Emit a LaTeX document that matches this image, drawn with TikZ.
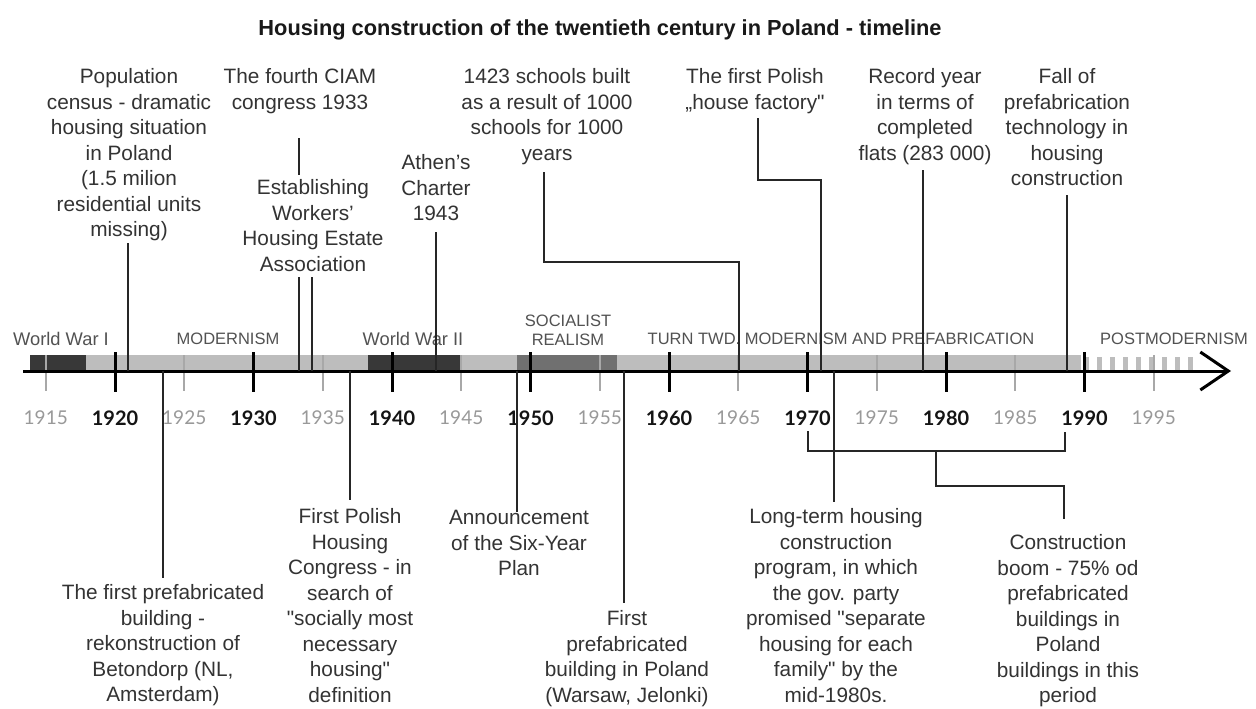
\documentclass[tikz,border=0pt]{standalone}
\usepackage{fontspec}
\setmainfont{Liberation Sans}[Ligatures=TeXOff]
\newfontfamily\yearfont{Lato}
\usetikzlibrary{arrows.meta,calc}
\definecolor{txt}{HTML}{333333}
\definecolor{barlight}{HTML}{BDBDBD}
\definecolor{bardark}{HTML}{383838}
\definecolor{barmid}{HTML}{707070}
\definecolor{minorc}{HTML}{A8A8A8}
\begin{document}
\begin{tikzpicture}[x=1pt,y=-1pt,
  note/.style={align=center, inner sep=0pt, anchor=north, text=txt, font=\fontsize{20.8}{25.5}\selectfont},
  conn/.style={draw=black!85, line width=2pt},
  period/.style={text=black!68, font=\fontsize{16.5}{19.5}\selectfont, inner sep=0pt, align=center},
  warlab/.style={period, font=\fontsize{18.3}{22}\selectfont},
  majorlab/.style={text=black!92, inner sep=0pt, font=\yearfont\bfseries\fontsize{20}{24}\selectfont},
  minorlab/.style={text=black!40, inner sep=0pt, font=\yearfont\fontsize{19}{23}\selectfont},
  majortick/.style={draw=black, line width=3pt},
  minortick/.style={draw=minorc, line width=2pt},
]
\path[use as bounding box, fill=white] (0,0) rectangle (1256,709);

% title
\node[anchor=base, inner sep=0pt, text=black!90, font=\bfseries\fontsize{21.8}{26}\selectfont] (title) at (600,36)
  {Housing construction of the twentieth century in Poland - timeline};

% period bars
\fill[bardark] (30,355) rectangle (86,370);
\fill[barlight] (86,355) rectangle (368,370);
\fill[bardark] (368,355) rectangle (461,370);
\fill[barlight] (461,355) rectangle (517,370);
\fill[barmid] (517,355) rectangle (617,370);
\fill[barlight] (617,355) rectangle (1081,370);
\draw[barlight, line width=13pt, dash pattern=on 5pt off 8pt] (1084,363.5) -- (1197,363.5);

% ticks and year labels
\foreach \yr in {1915,1925,...,1995} {
  \pgfmathsetmacro\xx{115+(\yr-1920)*13.85}
  \draw[minortick] (\xx,355) -- (\xx,391);
  \node[minorlab] (y\yr) at (\xx,418) {\yr};
}
\foreach \yr in {1920,1930,...,1990} {
  \pgfmathsetmacro\xx{115+(\yr-1920)*13.85}
  \draw[majortick] (\xx,352) -- (\xx,392);
  \node[majorlab] (y\yr) at (\xx,418) {\yr};
}

% axis
\coordinate (axS) at (23,371);
\coordinate (axE) at (1231,371);
\draw[line width=3pt, -{Straight Barb[length=28pt,width=38pt,line width=3pt]}] (axS) -- (axE);

% period labels
\node[warlab] (ww1) at (61,339) {World War I};
\node[period] (mod) at (228,339) {MODERNISM};
\node[warlab] (ww2) at (413,339) {World War II};
\node[period] (soc) at (568,330.5) {SOCIALIST\\REALISM};
\node[period] (turn) at (841,339) {TURN TWD. MODERNISM AND PREFABRICATION};
\node[period] (post) at (1174,339) {POSTMODERNISM};

% annotations above
\node[note] (pop) at (129,68.3) {Population\\census - dramatic\\housing situation\\in Poland\\(1.5 milion\\residential units\\missing)};
\node[note] (ciam) at (300,68.3) {The fourth CIAM\\congress 1933};
\node[note] (est) at (313,179.3) {Establishing\\Workers’\\Housing Estate\\Association};
\node[note] (athen) at (436,154.3) {Athen’s\\Charter\\1943};
\node[note] (schools) at (547,68.3) {1423 schools built\\as a result of 1000\\schools for 1000\\years};
\node[note] (factory) at (755,68.3) {The first Polish\\„house factory"};
\node[note] (record) at (925,68.3) {Record year\\in terms of\\completed\\flats (283 000)};
\node[note] (fall) at (1067,68.3) {Fall of\\prefabrication\\technology in\\housing\\construction};

% annotations below
\node[note] (beton) at (163,584.3) {The first prefabricated\\building -\\rekonstruction of\\Betondorp (NL,\\Amsterdam)};
\node[note] (congress) at (350,508.3) {First Polish\\Housing\\Congress - in\\search of\\"socially most\\necessary\\housing"\\definition};
\node[note] (announce) at (519,510.3) {Announcement\\of the Six-Year\\Plan};
\node[note] (firstpre) at (627,610.3) {First\\prefabricated\\building in Poland\\(Warsaw, Jelonki)};
\node[note] (longterm) at (836,508.3) {Long-term housing\\construction\\program, in which\\the gov. party\\promised "separate\\housing for each\\family" by the\\mid-1980s.};
\node[note] (boom) at (1068,534.3) {Construction\\boom - 75\% od\\prefabricated\\buildings in\\Poland\\buildings in this\\period};

% axis anchor points
\coordinate (a21) at (128,371);
\coordinate (a33) at (299,371);
\coordinate (a34) at (312,371);
\coordinate (a43) at (436,371);
\coordinate (a65) at (739,371);
\coordinate (a71) at (821,371);
\coordinate (a78) at (923,371);
\coordinate (a86) at (1067,371);
\coordinate (a22) at (163,371);
\coordinate (a36) at (350,371);
\coordinate (a49) at (517,371);
\coordinate (a57) at (624,371);
\coordinate (a72) at (834,371);
\coordinate (sk) at (544,262);
\coordinate (fk) at (758,180);
\coordinate (b70) at (808,431);
\coordinate (b90) at (1065,432);
\coordinate (bmid) at (936,451);
\coordinate (bk) at (1064,486);

% connectors above
\draw[conn] ($(pop.south -| a21)+(0,2)$) -- (a21);
\draw[conn] ($(ciam.south -| a33)+(0,24.5)$) -- ($(est.north -| a33)+(0,-4.5)$);
\draw[conn] ($(est.south -| a33)+(0,6)$) -- (a33);
\draw[conn] ($(est.south -| a34)+(0,6)$) -- (a34);
\draw[conn] ($(athen.south -| a43)+(0,11.5)$) -- (a43);
\draw[conn] ($(schools.south -| sk)+(0,7.5)$) -- (sk) -| (a65);
\draw[conn] ($(factory.south -| fk)+(0,4.5)$) -- (fk) -| (a71);
\draw[conn] ($(record.south -| a78)+(0,5.5)$) -- (a78);
\draw[conn] ($(fall.south -| a86)+(0,9.5)$) -- (a86);

% connectors below
\draw[conn] (a22) -- ($(beton.north -| a22)+(0,-6.5)$);
\draw[conn] (a36) -- ($(congress.north -| a36)+(0,-8.5)$);
\draw[conn] (a49) -- ($(announce.north -| a49)+(0,2)$);
\draw[conn] (a57) -- ($(firstpre.north -| a57)+(0,-7)$);
\draw[conn] (a72) -- ($(longterm.north -| a72)+(0,-6.5)$);
\draw[conn] (b70) -- (b70 |- bmid) -- (b90 |- bmid) -- (b90);
\draw[conn] (bmid) |- (bk) -- ($(boom.north -| bk)+(0,-15)$);
\end{tikzpicture}
\end{document}
